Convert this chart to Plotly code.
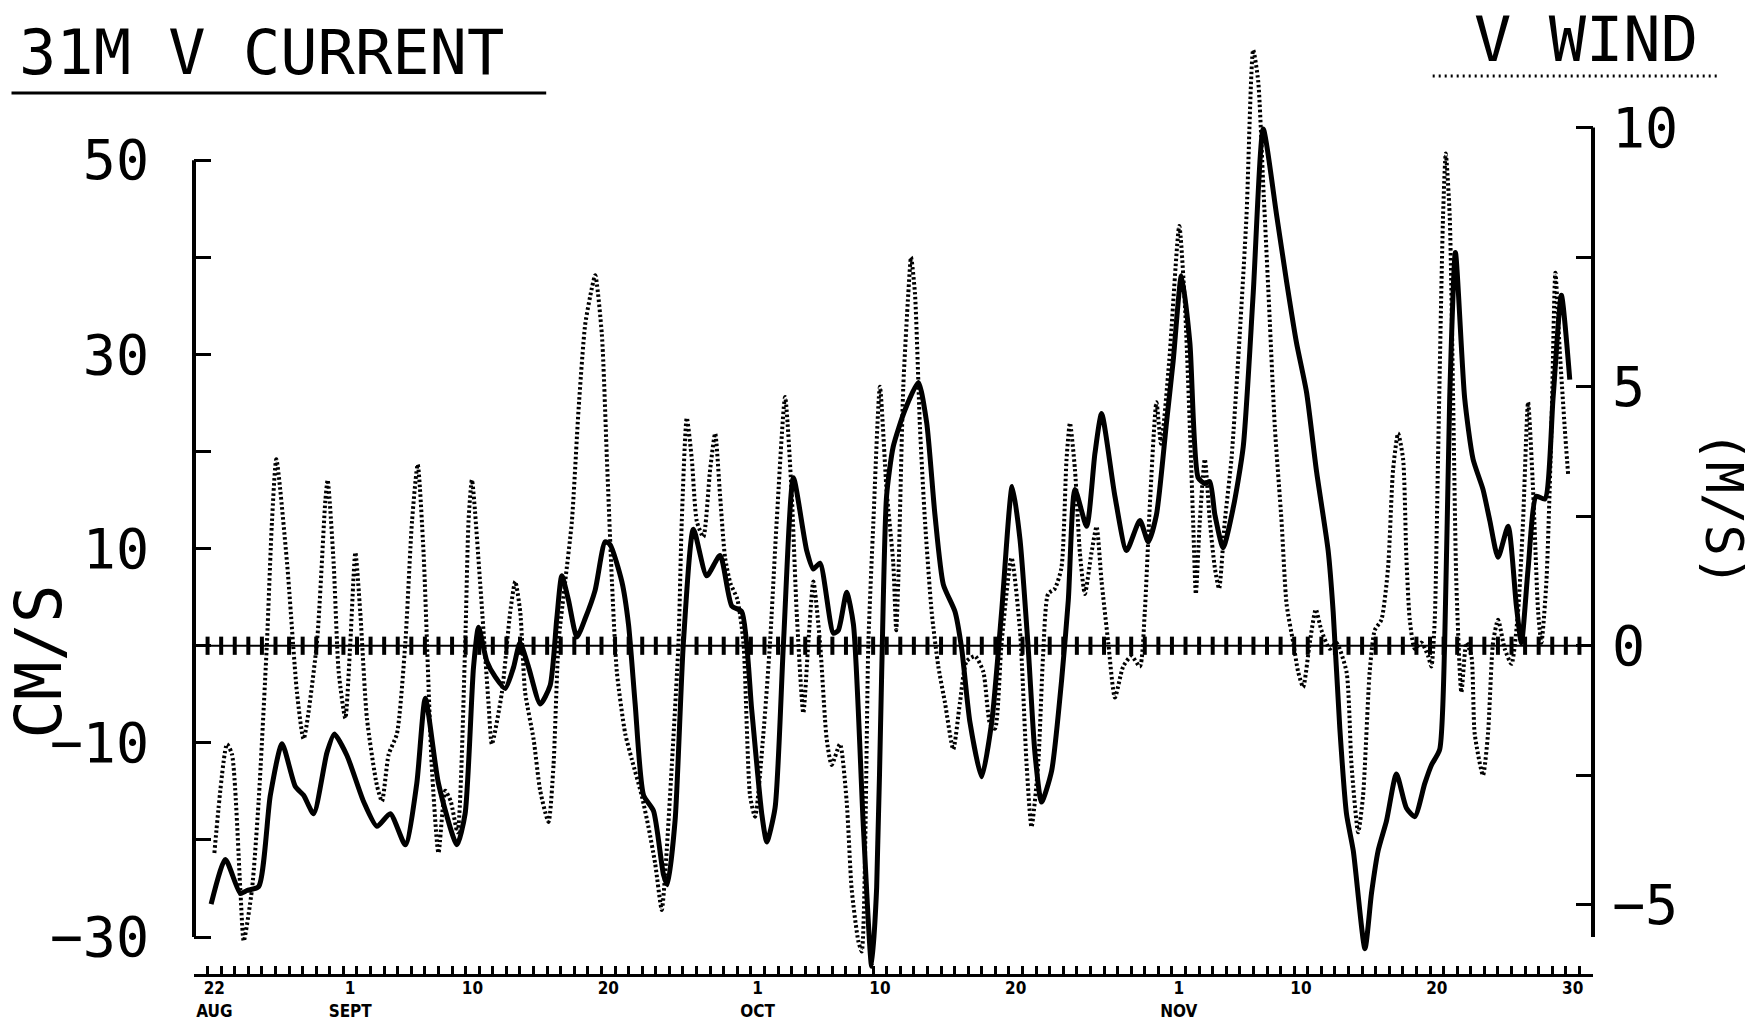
import plotly.graph_objects as go

# ---------------- data (x = days since 22 AUG 00:00) ----------------
current_day = [0.26, 1.31, 2.41, 2.9, 3.76, 4.62, 5.48, 6.46, 7.07, 7.81, 8.79, 9.33, 10.26, 11.5,
               12.47, 13.45, 14.56, 15.4, 16.03, 17.0, 18.36, 18.96, 19.58, 19.95, 20.56, 21.18,
               21.91, 22.53, 23.0, 23.63, 24.49, 25.22, 25.71, 26.08, 26.57, 27.19, 27.8, 28.53,
               29.27, 29.64, 30.5, 30.99, 31.48, 32.1, 32.83, 33.57, 33.85, 34.42, 35.03, 35.77,
               36.75, 37.73, 38.59, 39.33, 40.06, 40.8, 41.17, 41.78, 42.4, 43.13, 44.11, 44.6,
               45.09, 46.07, 46.44, 47.05, 47.55, 48.28, 48.89, 49.26, 49.63, 49.99, 50.48, 51.35,
               52.33, 52.94, 53.55, 54.17, 55.03, 55.52, 56.13, 56.99, 57.73, 58.46, 59.24, 59.81,
               60.42, 60.91, 61.4, 62.14, 62.88, 63.37, 63.86, 64.72, 65.33, 65.82, 66.8, 67.66,
               68.64, 69.25, 69.86, 70.6, 71.09, 71.7, 72.32, 72.93, 73.42, 73.79, 74.16, 74.77,
               75.51, 76.25, 76.98, 77.72, 78.7, 79.44, 80.17, 80.91, 81.64, 82.5, 82.87, 83.36,
               83.85, 84.35, 85.21, 85.69, 86.18, 86.8, 87.53, 88.26, 88.88, 89.61, 90.1, 90.71,
               91.08, 91.45, 91.87, 92.55, 93.17, 93.9, 94.4, 95.01, 95.75, 96.36, 96.73, 97.22,
               97.83, 98.45, 99.06, 99.67, 100.29]
current_cms = [-26.6, -22.0, -25.5, -25.2, -24.8, -15.4, -10.1, -14.5, -15.4, -17.3, -11.0, -9.1, -11.3, -16.1,
               -18.6, -17.3, -20.5, -14.2, -5.4, -14.2, -20.5, -17.3, -2.2, 1.9, -1.6, -3.2,
               -4.4, -2.2, 0.3, -2.2, -6.0, -4.1, 2.8, 7.2, 4.7, 0.9, 2.8, 5.7,
               10.7, 10.4, 6.6, 2.2, -6.0, -15.4, -17.0, -23.6, -24.6, -18.0, 0.3, 12.0,
               7.2, 9.3, 4.1, 3.5, -6.6, -17.3, -20.2, -16.7, 0.3, 17.3, 9.8, 7.9,
               8.5, 1.3, 1.6, 5.5, 2.2, -18.6, -33.0, -24.9, -2.8, 15.4, 20.5, 24.3,
               27.1, 23.0, 13.5, 6.3, 3.5, -0.3, -7.9, -13.5, -7.9, 3.5, 16.4, 11.0,
               -0.3, -11.0, -16.1, -12.9, -3.5, 4.7, 16.1, 12.3, 19.8, 23.9, 15.4, 9.8,
               12.9, 10.7, 13.5, 23.0, 29.3, 38.1, 31.2, 17.3, 16.7, 16.9, 13.5, 10.1,
               14.2, 20.5, 36.2, 53.2, 44.4, 37.5, 31.2, 26.1, 18.0, 9.8, 3.5, -8.5,
               -17.3, -21.1, -31.2, -25.5, -21.1, -18.0, -13.2, -16.7, -17.6, -14.2, -12.3, -10.7,
               0.3, 25.5, 40.5, 25.5, 19.2, 16.1, 12.9, 9.1, 12.3, 4.1, 0.3, 7.9,
               15.4, 15.1, 25.5, 36.1, 27.4]

wind_day = [0.5, 1.43, 1.8, 2.41, 2.66, 3.27, 3.76, 4.37, 4.74, 5.06, 5.85, 6.58, 7.07, 8.05,
            8.67, 8.84, 9.28, 9.65, 10.14, 10.51, 10.88, 11.24, 11.73, 12.47, 12.84, 13.33, 13.94,
            14.56, 15.05, 15.47, 15.9, 16.5, 17.0, 17.5, 17.9, 18.4, 18.97, 19.21, 19.46, 20.07,
            20.68, 20.93, 21.67, 22.28, 22.65, 23.02, 23.38, 24.0, 24.49, 25.1, 25.47, 25.84,
            26.33, 26.82, 27.31, 27.8, 28.29, 28.54, 29.03, 29.4, 29.77, 30.13, 30.75, 31.24,
            31.97, 32.46, 32.95, 33.44, 33.69, 34.18, 34.67, 34.91, 35.28, 35.65, 36.02, 36.5,
            37.0, 37.37, 37.73, 38.1, 38.5, 39.0, 39.45, 39.94, 40.31, 40.92, 41.41, 41.9,
            42.52, 43.01, 43.37, 43.86, 44.23, 44.6, 45.09, 45.58, 45.95, 46.56, 47.05, 47.42,
            47.91, 48.16, 48.65, 49.02, 49.5, 49.99, 50.48, 50.7, 50.85, 51.22, 51.59, 51.79,
            52.08, 52.45, 52.82, 53.31, 53.8, 54.29, 54.9, 55.39, 55.88, 56.5, 57.11, 57.6,
            57.97, 58.46, 59.19, 59.81, 60.3, 60.66, 61.15, 61.51, 61.88, 62.37, 62.86, 63.24,
            63.49, 63.86, 64.22, 64.59, 65.08, 65.45, 65.82, 66.31, 66.8, 67.41, 68.02, 68.64,
            69.0, 69.37, 69.86, 70.2, 70.8, 71.54, 71.95, 72.32, 72.56, 72.76, 73.05, 73.42,
            73.79, 74.16, 74.47, 74.89, 75.38, 75.99, 76.49, 76.98, 77.35, 77.72, 78.09, 78.58,
            79.07, 79.44, 79.93, 80.29, 80.66, 81.15, 81.59, 82.0, 82.62, 83.1, 83.85, 84.22,
            84.71, 85.07, 85.56, 85.93, 86.42, 86.91, 87.28, 87.65, 88.02, 88.26, 88.51, 88.88,
            89.37, 89.86, 90.1, 90.35, 90.59, 90.96, 91.16, 91.45, 91.7, 91.94, 92.31, 92.68,
            93.05, 93.29, 93.9, 94.27, 94.64, 95.01, 95.5, 96.0, 96.48, 96.85, 97.22, 97.59,
            97.96, 98.2, 98.57, 98.94, 99.23, 99.55, 99.92, 100.17]
wind_ms = [-4.0, -1.9, -2.1, -4.7, -5.7, -4.7, -3.0, 0.06, 2.4, 3.6, 1.6, -0.9, -1.8, 0.06,
           2.8, 3.2, 1.6, -0.5, -1.4, 0.06, 1.8, 0.65, -1.4, -2.7, -3.0, -2.1, -1.7,
           0.06, 2.4, 3.5, 1.8, -2.3, -4.0, -2.8, -3.0, -3.6, 0.06, 2.4, 3.2, 1.2,
           -1.1, -1.9, -0.9, 0.65, 1.24, 0.65, -0.9, -1.8, -2.8, -3.4, -2.3, 0.06,
           1.24, 2.4, 4.55, 6.2, 6.9, 7.15, 6.0, 3.6, 1.24, -0.5, -1.7, -2.2,
           -2.9, -3.5, -4.2, -5.1, -4.4, -2.3, 0.06, 2.4, 4.4, 3.6, 2.4, 2.1,
           3.4, 4.1, 2.9, 1.7, 1.2, 0.9, 0.06, -2.9, -3.3, -1.7, 0.06, 2.4,
           4.8, 2.9, 0.65, -1.3, 0.06, 1.24, 0.06, -1.8, -2.3, -1.9, -3.0, -4.7,
           -5.7, -5.9, 0.06, 2.4, 5.0, 3.0, 1.6, 0.3, 1.24, 5.0, 6.8, 7.5,
           6.8, 4.2, 2.4, 0.65, -0.4, -1.1, -2.0, -1.1, -0.3, -0.2, -0.5, -1.5,
           -1.6, 0.06, 1.7, 0.3, -2.3, -3.5, -2.3, -0.2, 1.0, 1.1, 1.5, 3.6,
           4.3, 3.4, 1.8, 1.0, 1.8, 2.3, 1.24, 0.06, -1.0, -0.4, -0.2, -0.4,
           0.65, 2.7, 4.7, 3.9, 5.5, 8.1, 6.6, 4.2, 2.4, 1.0, 2.4, 3.6,
           2.4, 1.5, 1.1, 2.4, 3.6, 6.0, 8.3, 11.5, 10.9, 8.9, 6.9, 4.2,
           2.4, 0.8, 0.06, -0.5, -0.8, 0.06, 0.7, 0.3, -0.06, 0.06, -0.5, -2.3,
           -3.6, -2.9, -0.5, 0.3, 0.5, 1.5, 3.4, 4.1, 3.6, 1.7, 0.5, -0.06,
           0.06, -0.2, -0.4, 0.5, 3.6, 8.3, 9.5, 8.3, 4.8, 1.2, -0.9, 0.06,
           -0.2, -1.7, -2.5, -1.7, 0.06, 0.5, -0.06, -0.35, 0.65, 2.4, 4.7, 3.0,
           0.65, 0.06, 1.24, 4.2, 7.2, 5.7, 4.2, 3.3]

x_label_pos = [0.5, 10.5, 19.5, 29.5, 40.5, 49.5, 59.5, 71.5, 80.5, 90.5, 100.5]
x_label_text = ["22<br>AUG", "1<br>SEPT", "10", "20", "1<br>OCT", "10", "20",
                "1<br>NOV", "10", "20", "30"]
day_ticks = list(range(0, 102))

left_ticks = [-30, -20, -10, 0, 10, 20, 30, 40, 50]
left_tick_text = ["\u221230", "", "\u221210", "", "10", "", "30", "", "50"]
right_ticks = [-5, -2.5, 0, 2.5, 5, 7.5, 10]
right_tick_text = ["\u22125", "", "0", "", "5", "", "10"]

# ---------------- layout geometry ----------------
W, H = 1758, 1024
PL, PR, PT, PB = 193.6, 1593.4, 30, 974
X_RANGE = [-1.0, 102.0]
Y_RANGE = [-33.8, 63.4]
CM_PER_MS = 5.335
Y2_RANGE = [Y_RANGE[0] / CM_PER_MS, Y_RANGE[1] / CM_PER_MS]


def px(x):
    return (x - PL) / (PR - PL)


def py(y):
    return (PB - y) / (PB - PT)


MONO = "DejaVu Sans Mono, Liberation Mono, monospace"
NARROW = "Liberation Sans Narrow, DejaVu Sans Condensed, Arial Narrow, sans-serif"

fig = go.Figure()

# zero line with daily ticks
fig.add_trace(go.Scatter(
    x=day_ticks, y=[0] * len(day_ticks), mode="markers",
    marker=dict(symbol="line-ns", size=13, line=dict(width=4, color="black")),
    hoverinfo="skip", showlegend=False))

fig.add_trace(go.Scatter(
    x=wind_day, y=wind_ms, yaxis="y2", mode="lines",
    line=dict(color="black", width=4, dash="2.5px,2.5px", shape="spline", smoothing=0.6),
    name="V WIND", showlegend=False))

fig.add_trace(go.Scatter(
    x=current_day, y=current_cms, mode="lines",
    line=dict(color="black", width=5, shape="spline", smoothing=0.6),
    name="31M V CURRENT", showlegend=False))

shapes = [
    # zero line
    dict(type="line", xref="paper", yref="y", x0=0, x1=1, y0=0, y1=0,
         line=dict(color="black", width=2)),
    # left axis line
    dict(type="line", xref="paper", yref="y", x0=0, x1=0, y0=-30, y1=50,
         line=dict(color="black", width=4)),
    # right axis line
    dict(type="line", xref="paper", yref="y2", x0=1, x1=1, y0=-30 / CM_PER_MS, y1=10,
         line=dict(color="black", width=4)),
    # title underline
    dict(type="line", xref="paper", yref="paper", x0=px(11), x1=px(546), y0=py(93), y1=py(93),
         line=dict(color="black", width=3)),
    # V WIND dotted underline
    dict(type="line", xref="paper", yref="paper", x0=px(1433), x1=px(1721), y0=py(76), y1=py(76),
         line=dict(color="black", width=3, dash="2px,4px")),
]

annotations = [
    dict(text="31M V CURRENT", xref="paper", yref="paper", x=px(16), y=py(53),
         xanchor="left", yanchor="middle", showarrow=False,
         font=dict(family=MONO, size=62, color="black")),
    dict(text="V WIND", xref="paper", yref="paper", x=px(1472), y=py(39),
         xanchor="left", yanchor="middle", showarrow=False,
         font=dict(family=MONO, size=62, color="black")),
    dict(text="CM/S", xref="paper", yref="paper", x=px(39), y=py(661),
         xanchor="center", yanchor="middle", showarrow=False, textangle=-90,
         font=dict(family=MONO, size=64, color="black")),
    dict(text="(M/S)", xref="paper", yref="paper", x=px(1724), y=py(509),
         xanchor="center", yanchor="middle", showarrow=False, textangle=90,
         font=dict(family=MONO, size=52, color="black")),
]

fig.update_layout(
    width=W, height=H,
    margin=dict(l=PL, r=W - PR, t=PT, b=H - PB, pad=0, autoexpand=False),
    paper_bgcolor="white", plot_bgcolor="white",
    showlegend=False,
    shapes=shapes, annotations=annotations,
    xaxis=dict(
        range=X_RANGE, showgrid=False, zeroline=False, automargin=False,
        showline=True, linecolor="black", linewidth=3,
        tickmode="array", tickvals=x_label_pos, ticktext=x_label_text,
        ticks="", ticklabelstandoff=-3,
        tickfont=dict(family=NARROW, size=17, color="black", weight="bold"),
        minor=dict(tickmode="array", tickvals=day_ticks, ticks="inside",
                   ticklen=8, tickwidth=2.5, tickcolor="black", showgrid=False),
    ),
    yaxis=dict(
        range=Y_RANGE, showgrid=False, zeroline=False, showline=False, automargin=False,
        tickmode="array", tickvals=left_ticks, ticktext=left_tick_text,
        ticks="inside", ticklen=17, tickwidth=3, tickcolor="black",
        ticklabelstandoff=44,
        tickfont=dict(family=MONO, size=55, color="black"),
    ),
    yaxis2=dict(
        range=Y2_RANGE, overlaying="y", side="right", anchor="x", automargin=False,
        showgrid=False, zeroline=False, showline=False,
        tickmode="array", tickvals=right_ticks, ticktext=right_tick_text,
        ticks="inside", ticklen=17, tickwidth=3, tickcolor="black",
        ticklabelstandoff=18,
        tickfont=dict(family=MONO, size=55, color="black"),
    ),
)

fig.write_html("out.html")
